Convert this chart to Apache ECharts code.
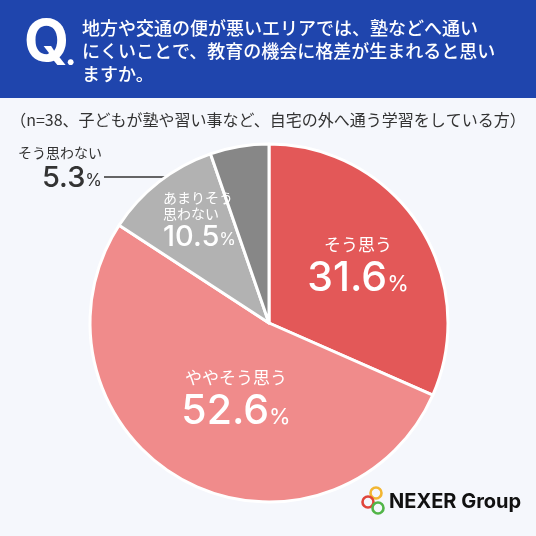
<html lang="ja">
<head>
    <meta charset="UTF-8">
    <title>教育の機会の格差</title>
    <style>
        html, body { margin: 0; padding: 0; background: #f5f7fc; }
        #container { width: 536px; height: 536px; }
    </style>
</head>
<body>
    <div id="container"></div>
</body>
<script src="https://cdn.jsdelivr.net/npm/echarts@6/dist/echarts.min.js"></script>
<script>
    // データ
    var categories = ['そう思う', 'ややそう思う', 'あまりそう\n思わない', 'そう思わない'];
    var values = [31.6, 52.6, 10.5, 5.3];
    var colors = ['#e35858', '#f08b8b', '#b2b2b2', '#878787'];
    var questionLines = [
        '地方や交通の便が悪いエリアでは、塾などへ通い',
        'にくいことで、教育の機会に格差が生まれると思い',
        'ますか。'
    ];
    var subtitle = '（n=38、子どもが塾や習い事など、自宅の外へ通う学習をしている方）';

    // ラベル位置（レイアウト用）
    var labelPos = [
        { x: 358, y: 233, align: 'center' },
        { x: 236, y: 366, align: 'center' },
        { x: 163, y: 190, align: 'left' },
        { x: 102, y: 144, align: 'right' }
    ];

    var jp = '"Noto Sans CJK JP", sans-serif';
    var num = 'Inter, "Noto Sans", sans-serif';

    var chart = echarts.init(document.getElementById('container'));

    var pieData = [];
    for (var i = 0; i < values.length; i++) {
        var big = i < 2;
        var dark = i === 3;
        var al = labelPos[i].align;
        pieData.push({
            name: categories[i],
            value: values[i],
            itemStyle: { color: colors[i] },
            label: {
                position: dark ? 'outside' : 'inside',
                align: al,
                rich: {
                    n: {
                        fontFamily: jp,
                        fontSize: big ? 17 : 14,
                        lineHeight: big ? 24 : (dark ? 18 : 16),
                        color: dark ? '#333' : '#fff',
                        align: al
                    },
                    v: {
                        fontFamily: num,
                        fontWeight: 500,
                        fontSize: big ? 41 : 29,
                        lineHeight: big ? 44 : (dark ? 32 : 30),
                        color: dark ? '#333' : '#fff',
                        align: al
                    },
                    p: {
                        fontFamily: num,
                        fontSize: big ? 22 : 17,
                        color: dark ? '#333' : '#fff',
                        padding: [big ? 10 : 6, 0, 0, 0]
                    }
                }
            },
            labelLine: {
                show: dark,
                lineStyle: { color: '#333', width: 1.5 }
            }
        });
    }

    var graphics = [
        { type: 'rect', shape: { x: 0, y: 0, width: 536, height: 98 }, style: { fill: '#1f45ad' } },
        { type: 'text', left: 24, top: 15, style: { text: 'Q', fill: '#fff', font: 'bold 58px ' + num } },
        { type: 'text', left: 65, top: 38, style: { text: '.', fill: '#fff', font: 'bold 34px ' + num } }
    ];
    for (var j = 0; j < questionLines.length; j++) {
        graphics.push({
            type: 'text', left: 82, top: 19 + j * 23,
            style: { text: questionLines[j], fill: '#fff', font: '500 18px ' + jp }
        });
    }
    graphics.push({
        type: 'text', left: 'center', top: 112,
        style: { text: subtitle, fill: '#333', font: '16px ' + jp }
    });
    // ロゴ
    graphics.push(
        { type: 'circle', shape: { cx: 376, cy: 493, r: 5.5 }, style: { fill: 'none', stroke: '#f2b632', lineWidth: 2.6 } },
        { type: 'circle', shape: { cx: 368, cy: 502, r: 5.5 }, style: { fill: 'none', stroke: '#e0443a', lineWidth: 2.6 } },
        { type: 'circle', shape: { cx: 378, cy: 508, r: 5.5 }, style: { fill: 'none', stroke: '#52b548', lineWidth: 2.6 } },
        { type: 'text', left: 389, top: 492, style: { text: 'NEXER Group', fill: '#111', font: 'bold 20px ' + num } }
    );

    var option = {
        backgroundColor: '#f5f7fc',
        animation: false,
        graphic: graphics,
        series: [{
            type: 'pie',
            center: [269, 323],
            radius: [0, 179],
            startAngle: 90,
            clockwise: true,
            avoidLabelOverlap: false,
            itemStyle: { borderColor: '#fff', borderWidth: 3 },
            label: {
                show: true,
                formatter: function (p) {
                    return '{n|' + p.name + '}\n{v|' + p.value + '}{p|%}';
                }
            },
            labelLayout: function (p) {
                var lp = labelPos[p.dataIndex];
                var res = { x: lp.x, y: lp.y, align: lp.align, verticalAlign: 'top' };
                if (p.dataIndex === 3) {
                    res.labelLinePoints = [[245, 177], [104, 177], [104, 177]];
                }
                return res;
            },
            data: pieData
        }]
    };
    chart.setOption(option);
</script>
</html>
